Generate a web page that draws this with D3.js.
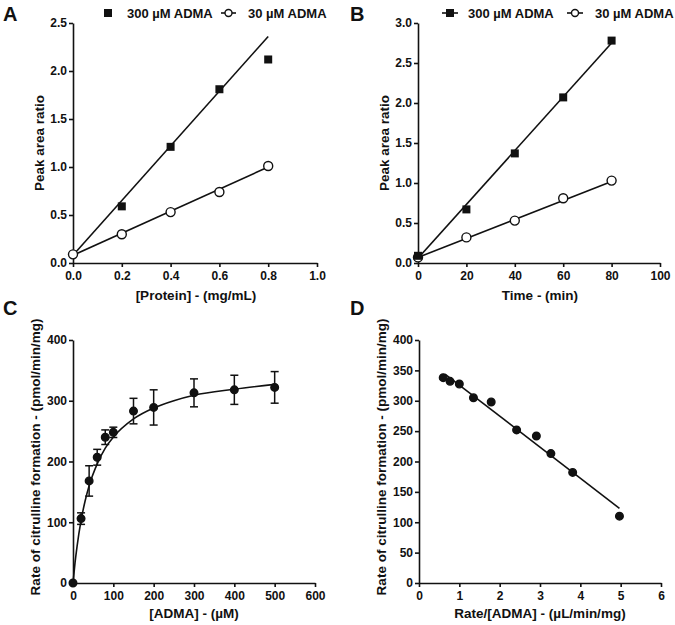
<!DOCTYPE html>
<html><head><meta charset="utf-8">
<script src="https://cdn.jsdelivr.net/npm/d3@7"></script>
<style>
body{margin:0;background:#fff;}
svg text{font-family:"Liberation Sans",Arial,sans-serif;font-weight:bold;fill:#111;}
.axis path,.axis line{stroke:#111;stroke-width:1.6px;}
.axis text{font-size:12px;}
</style></head>
<body><svg id="c" width="675" height="625"></svg>
<script>
// ---- Panel A data: peak area ratio vs protein ----
const protA = [0, 0.2, 0.4, 0.6, 0.8];
const a300 = [0.09, 0.59, 1.21, 1.81, 2.12];
const a30 = [0.09, 0.30, 0.53, 0.74, 1.01];
const a300Fit = [[0, 0.08], [0.8, 2.36]];
const a30Fit = [[0, 0.08], [0.8, 1.00]];
// ---- Panel B data: peak area ratio vs time ----
const timeB = [0, 20, 40, 60, 80];
const b300 = [0.09, 0.67, 1.37, 2.07, 2.78];
const b30 = [0.07, 0.32, 0.53, 0.81, 1.03];
const b300Fit = [[0, 0.06], [80, 2.75]];
const b30Fit = [[0, 0.07], [80, 1.02]];
// ---- Panel C data: rate vs [ADMA] ----
const admaC = [0, 20, 40, 60, 80, 100, 150, 200, 300, 400, 500];
const rateC = [0, 106, 168, 207, 240, 248, 283, 289, 313, 318, 322];
const errC = [0, 9.5, 25, 13, 12, 8.5, 21, 29, 23, 24, 26];
const curveCx = [0, 5, 10, 20, 30, 40, 60, 80, 100, 150, 200, 250, 300, 400, 500];
const curveCy = [0, 33, 60, 103, 135, 160, 196, 222, 240, 270, 288, 300, 309, 319, 327];
// ---- Panel D data: Eadie-Hofstee ----
const dX = [0.60, 0.77, 1.00, 1.35, 1.79, 2.42, 2.91, 3.27, 3.81, 4.97];
const dY = [338, 332, 327.5, 305, 298, 252, 242, 213, 182, 110];
const dFit = [[0.645, 344], [4.97, 123]];

const yTicksA = [0, 0.5, 1.0, 1.5, 2.0, 2.5];
const xTicksA = [0, 0.2, 0.4, 0.6, 0.8, 1.0];
const yTicksB = [0, 0.5, 1.0, 1.5, 2.0, 2.5, 3.0];
const xTicksB = [0, 20, 40, 60, 80, 100];
const yTicksC = [0, 100, 200, 300, 400];
const xTicksC = [0, 100, 200, 300, 400, 500, 600];
const yTicksD = [0, 50, 100, 150, 200, 250, 300, 350, 400];
const xTicksD = [0, 1, 2, 3, 4, 5, 6];

const svg = d3.select("#c");

function axes(x, y, xt, yt, xfmt, yfmt) {
  const g = svg.append("g");
  g.append("g").attr("class", "axis").attr("transform", `translate(0,${y.range()[0]})`)
    .call(d3.axisBottom(x).tickValues(xt).tickFormat(xfmt).tickSize(4).tickSizeOuter(0).tickPadding(4));
  g.append("g").attr("class", "axis").attr("transform", `translate(${x.range()[0]},0)`)
    .call(d3.axisLeft(y).tickValues(yt).tickFormat(yfmt).tickSize(4).tickSizeOuter(0).tickPadding(2));
  return g;
}
function fitLine(x, y, pts) {
  svg.append("path").attr("d", d3.line().x(d => x(d[0])).y(d => y(d[1]))(pts))
    .attr("stroke", "#111").attr("stroke-width", 1.6).attr("fill", "none");
}
function squares(x, y, xs, ys) {
  svg.append("g").selectAll("rect").data(xs).join("rect")
    .attr("x", (d) => x(d) - 4).attr("y", (d, i) => y(ys[i]) - 4)
    .attr("width", 8).attr("height", 8).attr("fill", "#111");
}
function circles(x, y, xs, ys, fill, r) {
  svg.append("g").selectAll("circle").data(xs).join("circle")
    .attr("cx", d => x(d)).attr("cy", (d, i) => y(ys[i])).attr("r", r)
    .attr("fill", fill).attr("stroke", "#111").attr("stroke-width", 1.4);
}
function label(t, x, y) {
  svg.append("text").attr("x", x).attr("y", y).attr("font-size", 20).text(t);
}
function xTitle(t, x, y) {
  svg.append("text").attr("x", x).attr("y", y).attr("text-anchor", "middle").attr("font-size", 13.5).text(t);
}
function yTitle(t, x, y) {
  svg.append("text").attr("transform", `translate(${x},${y}) rotate(-90)`).attr("text-anchor", "middle")
    .attr("font-size", 13.5).text(t);
}
const f1 = d3.format(".1f"), f0 = d3.format("d");

// Panel A
const xA = d3.scaleLinear().domain([0, 1]).range([73, 317]);
const yA = d3.scaleLinear().domain([0, 2.5]).range([263, 23]);
axes(xA, yA, xTicksA, yTicksA, f1, f1);
fitLine(xA, yA, a300Fit); fitLine(xA, yA, a30Fit);
squares(xA, yA, protA.slice(1), a300.slice(1));
circles(xA, yA, protA, a30, "#fff", 4.5);
label("A", 3, 21);
xTitle("[Protein] - (mg/mL)", 196, 300);
yTitle("Peak area ratio", 44, 143);
// legend A
svg.append("rect").attr("x", 104).attr("y", 9).attr("width", 8).attr("height", 8).attr("fill", "#111");
svg.append("text").attr("x", 127).attr("y", 18).attr("font-size", 13).text("300 µM ADMA");
svg.append("line").attr("x1", 221).attr("x2", 236).attr("y1", 13).attr("y2", 13).attr("stroke", "#111").attr("stroke-width", 1.6);
svg.append("circle").attr("cx", 228.5).attr("cy", 13).attr("r", 3.5).attr("fill", "#fff").attr("stroke", "#111").attr("stroke-width", 1.4);
svg.append("text").attr("x", 248).attr("y", 18).attr("font-size", 13).text("30 µM ADMA");

// Panel B
const xB = d3.scaleLinear().domain([0, 100]).range([418, 660]);
const yB = d3.scaleLinear().domain([0, 3]).range([263, 23]);
axes(xB, yB, xTicksB, yTicksB, f0, f1);
fitLine(xB, yB, b300Fit); fitLine(xB, yB, b30Fit);
circles(xB, yB, timeB, b30, "#fff", 4.5);
squares(xB, yB, timeB, b300);
label("B", 350, 21);
xTitle("Time - (min)", 540, 300);
yTitle("Peak area ratio", 389, 143);
// legend B
svg.append("line").attr("x1", 442).attr("x2", 458).attr("y1", 13).attr("y2", 13).attr("stroke", "#111").attr("stroke-width", 1.6);
svg.append("rect").attr("x", 446).attr("y", 9).attr("width", 8).attr("height", 8).attr("fill", "#111");
svg.append("text").attr("x", 468).attr("y", 18).attr("font-size", 13).text("300 µM ADMA");
svg.append("line").attr("x1", 567).attr("x2", 583).attr("y1", 13).attr("y2", 13).attr("stroke", "#111").attr("stroke-width", 1.6);
svg.append("circle").attr("cx", 575).attr("cy", 13).attr("r", 3.5).attr("fill", "#fff").attr("stroke", "#111").attr("stroke-width", 1.4);
svg.append("text").attr("x", 595).attr("y", 18).attr("font-size", 13).text("30 µM ADMA");

// Panel C
const xC = d3.scaleLinear().domain([0, 600]).range([73, 315]);
const yC = d3.scaleLinear().domain([0, 400]).range([583, 340]);
axes(xC, yC, xTicksC, yTicksC, f0, f0);
svg.append("path").attr("d", d3.line().x((d, i) => xC(d)).y((d, i) => yC(curveCy[i])).curve(d3.curveMonotoneX)(curveCx))
  .attr("stroke", "#111").attr("stroke-width", 1.6).attr("fill", "none");
const eb = svg.append("g").attr("stroke", "#111").attr("stroke-width", 1.5);
admaC.forEach((d, i) => {
  if (!errC[i]) return;
  const x = xC(d), t = yC(rateC[i] + errC[i]), b = yC(rateC[i] - errC[i]);
  eb.append("line").attr("x1", x).attr("x2", x).attr("y1", t).attr("y2", b);
  eb.append("line").attr("x1", x - 4).attr("x2", x + 4).attr("y1", t).attr("y2", t);
  eb.append("line").attr("x1", x - 4).attr("x2", x + 4).attr("y1", b).attr("y2", b);
});
circles(xC, yC, admaC, rateC, "#111", 3.8);
label("C", 3, 315);
xTitle("[ADMA] - (µM)", 194, 618);
yTitle("Rate of citrulline formation - (pmol/min/mg)", 40, 457);

// Panel D
const xD = d3.scaleLinear().domain([0, 6]).range([419, 661]);
const yD = d3.scaleLinear().domain([0, 400]).range([583, 340]);
axes(xD, yD, xTicksD, yTicksD, f0, f0);
fitLine(xD, yD, dFit);
circles(xD, yD, dX, dY, "#111", 3.8);
label("D", 350, 315);
xTitle("Rate/[ADMA] - (µL/min/mg)", 540, 618);
yTitle("Rate of citrulline formation - (pmol/min/mg)", 386, 457);
</script></body></html>
